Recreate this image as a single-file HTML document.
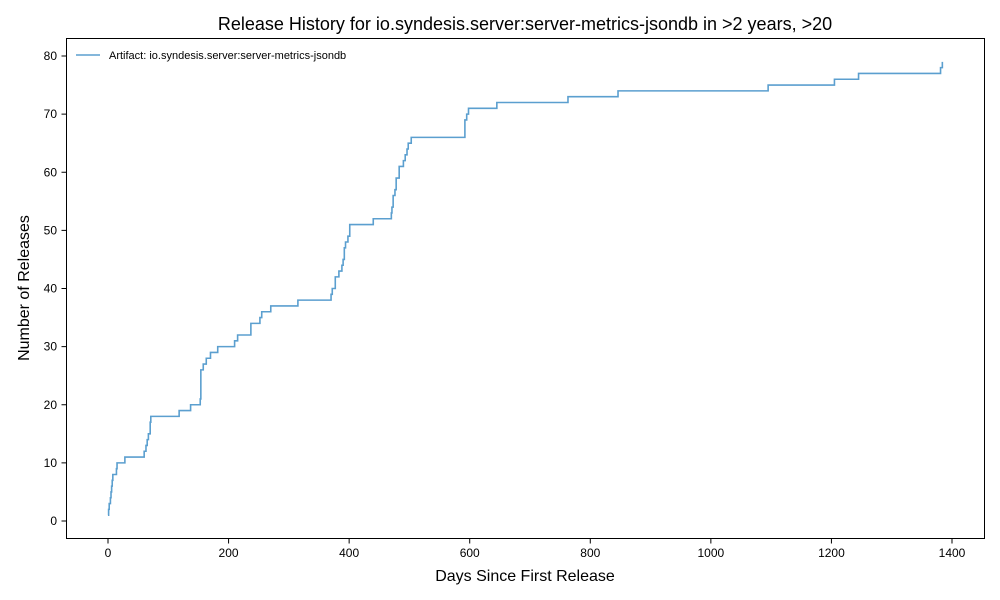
<!DOCTYPE html>
<html><head><meta charset="utf-8">
<style>
html,body{margin:0;padding:0;background:#fff;}
svg{display:block;font-family:"Liberation Sans","DejaVu Sans",sans-serif;}
</style></head>
<body>
<svg id="chart" width="1000" height="600" viewBox="0 0 1000 600">
  <rect x="0" y="0" width="1000" height="600" fill="#fff"/>
  <text x="525" y="30" font-size="18" text-anchor="middle" fill="#000">Release History for io.syndesis.server:server-metrics-jsondb in &gt;2 years, &gt;20</text>
  <g id="xticks"></g>
  <g id="yticks"></g>
  <path id="series" fill="none" stroke="#5b9fcf" stroke-width="1.6"/>
  <rect x="66.5" y="38.5" width="918" height="500" fill="none" stroke="#000" stroke-width="1"/>
  <text x="525" y="581" font-size="16" text-anchor="middle">Days Since First Release</text>
  <text x="29" y="288" font-size="16" text-anchor="middle" transform="rotate(-90 29 288)">Number of Releases</text>
  <g>
    <line x1="76" y1="55" x2="100" y2="55" stroke="#5b9fcf" stroke-width="1.6"/>
    <text x="109" y="59" font-size="11">Artifact: io.syndesis.server:server-metrics-jsondb</text>
  </g>
</svg>
<script>
const days = [0,1,2,4,5,6,7,8,14,15,28,60,63,65,67,70,71,118,137,153,154,158,163,170,182,210,215,237,252,255,270,315,370,372,377,383,388,390,392,394,398,401,440,470,471,473,476,478,483,490,493,496,498,503,592,595,598,645,763,846,1095,1205,1245,1381,1384];
const counts = [1,2,3,4,5,6,7,8,9,10,11,12,13,14,15,17,18,19,20,21,26,27,28,29,30,31,32,34,35,36,37,38,39,40,42,43,44,45,47,48,49,51,52,53,54,56,57,59,61,62,63,64,65,66,69,70,71,72,73,74,75,76,77,78,79];
const xTickLabels = [0,200,400,600,800,1000,1200,1400];
const yTickLabels = [0,10,20,30,40,50,60,70,80];

const X = d => 108 + d * (844/1400);
const Y = v => 521 - v * (465/80);
const ns = 'http://www.w3.org/2000/svg';

let d = 'M' + X(days[0]) + ',' + Y(counts[0]);
for (let i = 1; i < days.length; i++) {
  d += ' H' + X(days[i]) + ' V' + Y(counts[i]);
}
document.getElementById('series').setAttribute('d', d);

const xg = document.getElementById('xticks');
xTickLabels.forEach(t => {
  const x = X(t);
  const l = document.createElementNS(ns, 'line');
  l.setAttribute('x1', x); l.setAttribute('x2', x);
  l.setAttribute('y1', 538.5); l.setAttribute('y2', 543.5);
  l.setAttribute('stroke', '#000');
  
  
  xg.appendChild(l);
  const tx = document.createElementNS(ns, 'text');
  tx.setAttribute('x', x); tx.setAttribute('y', 557);
  tx.setAttribute('font-size', '12'); tx.setAttribute('text-anchor', 'middle');
  tx.textContent = t;
  
  
  xg.appendChild(tx);
});
const yg = document.getElementById('yticks');
yTickLabels.forEach(t => {
  const y = Y(t);
  const l = document.createElementNS(ns, 'line');
  l.setAttribute('x1', 61.5); l.setAttribute('x2', 66.5);
  l.setAttribute('y1', y); l.setAttribute('y2', y);
  l.setAttribute('stroke', '#000');
  
  
  yg.appendChild(l);
  const tx = document.createElementNS(ns, 'text');
  tx.setAttribute('x', 57); tx.setAttribute('y', y + 4);
  tx.setAttribute('font-size', '12'); tx.setAttribute('text-anchor', 'end');
  tx.textContent = t;
  
  
  yg.appendChild(tx);
});
</script>
</body></html>
